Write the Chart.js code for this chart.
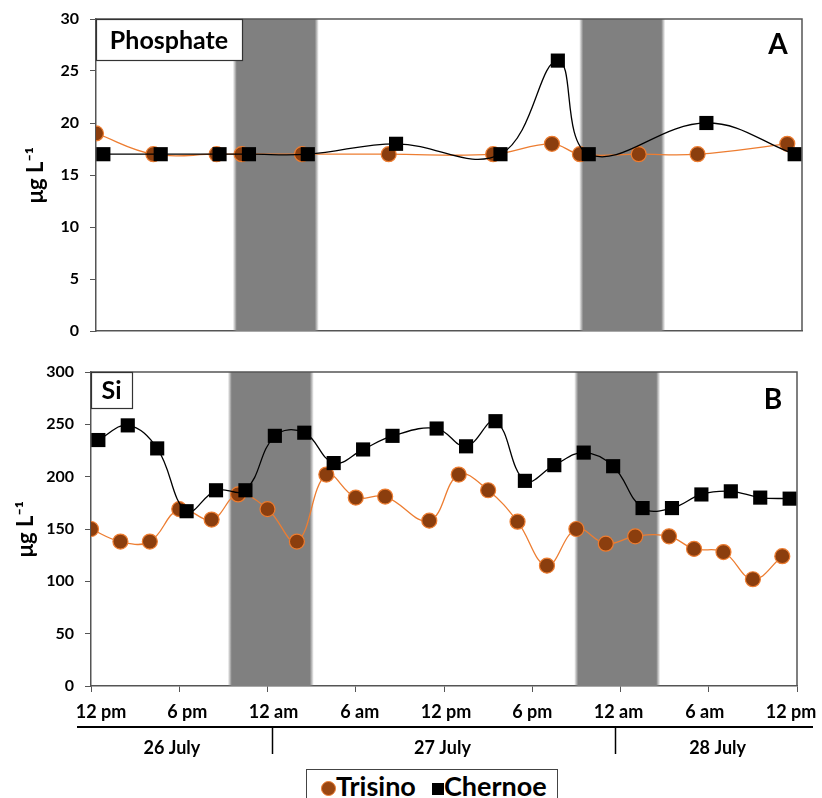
<!DOCTYPE html>
<html>
<head>
<meta charset="utf-8">
<script src="https://cdn.jsdelivr.net/npm/chart.js@4.4.0/dist/chart.umd.min.js"></script>
<style>
  body { margin: 0; background: #fff; width: 822px; height: 798px; overflow: hidden; position: relative; font-family: Lato, sans-serif; }
  #topChart { position: absolute; left: 0; top: 0; }
  #botChart { position: absolute; left: 0; top: 345px; }
  #legend {
    position: absolute; left: 306px; top: 769px; width: 252px; height: 40px;
    border: 1.5px solid #444; box-sizing: border-box; background: #fff;
    font: bold 27px Lato, sans-serif; color: #000; padding-left: 14px; line-height: 32px; white-space: nowrap;
  }
  #legend .dot { display: inline-block; width: 15px; height: 15px; border-radius: 50%; background: #9a4712; border: 1px solid #ED7D31; box-sizing: border-box; vertical-align: 0px; }
  #legend .sq { display: inline-block; width: 12px; height: 12px; background: #000; vertical-align: 1px; margin-left: 16px; }
</style>
</head>
<body>
<canvas id="topChart" width="822" height="345"></canvas>
<canvas id="botChart" width="822" height="453"></canvas>
<div id="legend"><span class="dot"></span>Trisino<span class="sq"></span>Chernoe</div>
<script>
// x axis: hours since 12 pm, 26 July
const tickLabels = ['12 pm', '6 pm', '12 am', '6 am', '12 pm', '6 pm', '12 am', '6 am', '12 pm'];
const dayLabels = ['26 July', '27 July', '28 July'];
const dayLabelHours = [5.5, 23.9, 42.6];
const dayBreakHours = [12.3, 35.6];
const nightBands = [[9.3, 15.15], [32.85, 38.7]];

// Phosphate (panel A)
const phosTrisinoHours = [0, 3.9, 8.2, 9.9, 14, 19.9, 27, 31, 32.9, 36.9, 40.9, 47];
const phosTrisino = [19, 17, 17, 17, 17, 17, 17, 18, 17, 17, 17, 18];
const phosChernoeHours = [0.5, 4.4, 8.4, 10.4, 14.4, 20.4, 27.5, 31.4, 33.5, 41.5, 47.5];
const phosChernoe = [17, 17, 17, 17, 17, 18, 17, 26, 17, 20, 17];

// Si (panel B)
const siTrisinoHours = [0, 2, 4, 6, 8.2, 10, 12, 14, 16, 18, 20, 23, 25, 27, 29, 31, 33, 35, 37, 39.3, 41, 43, 45, 47];
const siTrisino = [150, 138, 138, 169, 159, 183, 169, 138, 202, 180, 181, 158, 202, 187, 157, 115, 150, 136, 143, 143, 131, 128, 102, 124];
const siChernoeHours = [0.5, 2.5, 4.5, 6.5, 8.5, 10.5, 12.5, 14.5, 16.5, 18.5, 20.5, 23.5, 25.5, 27.5, 29.5, 31.5, 33.5, 35.5, 37.5, 39.5, 41.5, 43.5, 45.5, 47.5];
const siChernoe = [235, 249, 227, 167, 187, 187, 239, 242, 213, 226, 239, 246, 229, 253, 196, 211, 223, 210, 170, 170, 183, 186, 180, 179];

const FONT = 'Lato, sans-serif';
const AXIS = '#555';

const toPoints = (xs, ys) => xs.map((h, i) => ({ x: h, y: ys[i] }));

function trisinoSet(xs, ys) {
  return {
    label: 'Trisino', data: toPoints(xs, ys), order: 1,
    borderColor: '#ED7D31', borderWidth: 1.3, tension: 0.4,
    pointStyle: 'circle', pointRadius: 7.5, pointBackgroundColor: '#8B3E0E',
    pointBorderColor: '#ED7D31', pointBorderWidth: 1.2
  };
}
function chernoeSet(xs, ys) {
  return {
    label: 'Chernoe', data: toPoints(xs, ys), order: 0,
    borderColor: '#000', borderWidth: 1.3, tension: 0.4,
    pointStyle: 'rect', pointRadius: 10, pointBackgroundColor: '#000',
    pointBorderColor: '#000', pointBorderWidth: 0
  };
}

// night bands, panel tag box, letter, frame
const panelDeco = {
  id: 'panelDeco',
  beforeDatasetsDraw(chart, args, o) {
    const { ctx, chartArea: a, scales: { x } } = chart;
    ctx.save();
    nightBands.forEach(b => {
      const x1 = x.getPixelForValue(b[0]), x2 = x.getPixelForValue(b[1]);
      const e = 4 / (x2 - x1);
      const g = ctx.createLinearGradient(x1, 0, x2, 0);
      g.addColorStop(0, 'rgba(128,128,128,0)');
      g.addColorStop(e, '#808080');
      g.addColorStop(1 - e, '#808080');
      g.addColorStop(1, 'rgba(128,128,128,0)');
      ctx.fillStyle = g;
      ctx.fillRect(x1, a.top, x2 - x1, a.bottom - a.top);
    });
    ctx.restore();
  },
  afterDatasetsDraw(chart, args, o) {
    const { ctx, chartArea: a } = chart;
    ctx.save();
    ctx.strokeStyle = AXIS;
    ctx.lineWidth = 1.5;
    ctx.beginPath();
    ctx.moveTo(a.left, a.top); ctx.lineTo(a.right, a.top); ctx.lineTo(a.right, a.bottom);
    ctx.stroke();
    // tag box
    ctx.fillStyle = '#fff';
    ctx.fillRect(a.left, a.top, o.boxW, o.boxH);
    ctx.strokeStyle = '#333';
    ctx.lineWidth = 1.2;
    ctx.strokeRect(a.left + 0.5, a.top + 0.5, o.boxW, o.boxH);
    ctx.fillStyle = '#000';
    ctx.font = 'bold 25px ' + FONT;
    ctx.textAlign = 'center';
    ctx.textBaseline = 'middle';
    ctx.fillText(o.tag, a.left + o.boxW / 2, a.top + o.boxH / 2 + 1);
    ctx.font = 'bold 28px ' + FONT;
    ctx.fillText(o.letter, a.right - 24, a.top + o.letterY);
    ctx.restore();
  }
};

// time labels and day row under the lower panel
const dayRow = {
  id: 'dayRow',
  afterDraw(chart, args, o) {
    if (!o.show) return;
    const { ctx, chartArea: a, scales: { x } } = chart;
    ctx.save();
    ctx.fillStyle = '#000';
    ctx.textAlign = 'center';
    ctx.textBaseline = 'middle';
    ctx.font = 'bold 18px ' + FONT;
    // time labels spread a little wider than the ticks, as in the original
    const first = x.getPixelForValue(0) + 10, last = x.getPixelForValue(48) - 6;
    tickLabels.forEach((t, i) => {
      ctx.fillText(t, first + i * (last - first) / (tickLabels.length - 1), 367);
    });
    const y = 382;
    ctx.strokeStyle = '#000';
    ctx.lineWidth = 2;
    ctx.beginPath();
    ctx.moveTo(a.left - 14, y); ctx.lineTo(a.right + 16, y);
    ctx.stroke();
    ctx.lineWidth = 1.5;
    dayBreakHours.forEach(h => {
      const px = Math.round(x.getPixelForValue(h)) + 0.5;
      ctx.beginPath(); ctx.moveTo(px, y); ctx.lineTo(px, y + 27); ctx.stroke();
    });
    dayLabels.forEach((t, i) => ctx.fillText(t, x.getPixelForValue(dayLabelHours[i]), y + 21));
    ctx.restore();
  }
};

function makePanel(id, datasets, cfg) {
  return new Chart(document.getElementById(id), {
    type: 'line',
    data: { datasets },
    plugins: [panelDeco, dayRow],
    options: {
      responsive: false,
      animation: false,
      layout: { padding: { left: 0, right: cfg.padRight, top: cfg.padTop, bottom: 0 } },
      plugins: {
        legend: { display: false },
        tooltip: { enabled: false },
        panelDeco: { tag: cfg.tag, boxW: cfg.boxW, boxH: cfg.boxH, letter: cfg.letter, letterY: cfg.letterY },
        dayRow: { show: cfg.showX }
      },
      scales: {
        x: {
          type: 'linear', min: 0, max: 48,
          border: { display: true, color: AXIS, width: 1.5 },
          grid: { drawOnChartArea: false, drawTicks: cfg.showX, tickLength: 6, color: AXIS },
          ticks: { display: false, stepSize: 6, autoSkip: false },
          afterFit: s => { s.height = cfg.xHeight; s.paddingLeft = 0; s.paddingRight = 0; }
        },
        y: {
          min: 0, max: cfg.yMax,
          border: { display: true, color: AXIS, width: 1.5 },
          grid: { drawOnChartArea: false, tickLength: 6, color: AXIS },
          ticks: { stepSize: cfg.yStep, padding: 11, color: '#000', font: { family: FONT, size: 16, weight: 'bold' } },
          title: {
            display: true, text: 'μg L\u207B\u00B9', color: '#000',
            font: { family: FONT, size: 22, weight: 'bold' }, padding: { top: cfg.titlePad, bottom: 0 }
          },
          afterFit: s => { s.width = cfg.yWidth; s.paddingTop = 0; s.paddingBottom = 0; }
        }
      }
    }
  });
}

makePanel('topChart', [trisinoSet(phosTrisinoHours, phosTrisino), chernoeSet(phosChernoeHours, phosChernoe)], {
  padRight: 20, padTop: 19, xHeight: 14, showX: false, yWidth: 96, yMax: 30, yStep: 5, titlePad: 23,
  tag: 'Phosphate', boxW: 146, boxH: 41, letter: 'A', letterY: 26
});

makePanel('botChart', [trisinoSet(siTrisinoHours, siTrisino), chernoeSet(siChernoeHours, siChernoe)], {
  padRight: 25, padTop: 27, xHeight: 112, showX: true, yWidth: 91, yMax: 300, yStep: 50, titlePad: 13,
  tag: 'Si', boxW: 41, boxH: 36, letter: 'B', letterY: 28
});
</script>
</body>
</html>
